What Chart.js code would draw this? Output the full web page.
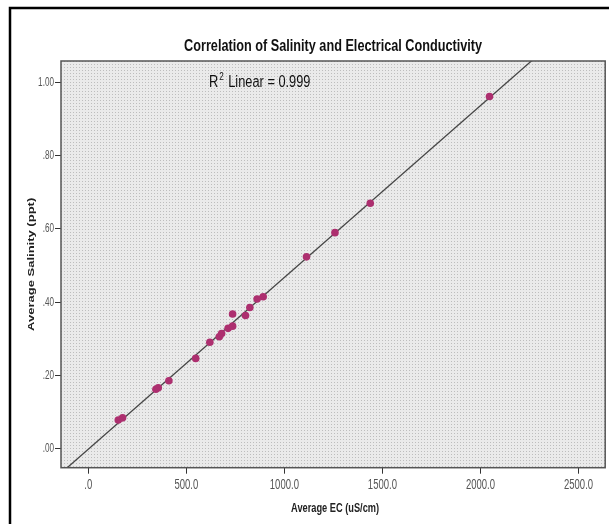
<!DOCTYPE html>
<html>
<head>
<meta charset="utf-8">
<script src="https://cdn.jsdelivr.net/npm/chart.js@4.4.1/dist/chart.umd.min.js"></script>
<style>
  html, body { margin: 0; padding: 0; background: #fff; }
  #wrap { width: 609px; height: 524px; }
</style>
</head>
<body>
<div id="wrap"><canvas id="chart" width="609" height="524"></canvas></div>
<script>
// EC (uS/cm) and salinity (ppt) for each sample
const ecValues = [153, 175, 345, 357, 411, 548, 620, 668, 680, 713, 736, 736, 802, 824, 861, 892, 1113, 1258, 1438, 2046];
const salinityValues = [0.079, 0.085, 0.163, 0.167, 0.186, 0.247, 0.291, 0.306, 0.315, 0.329, 0.335, 0.368, 0.364, 0.386, 0.409, 0.415, 0.524, 0.59, 0.67, 0.961];

const xTickValues = [0, 500, 1000, 1500, 2000, 2500];
const xTickLabels = ['.0', '500.0', '1000.0', '1500.0', '2000.0', '2500.0'];
const yTickValues = [0, 0.2, 0.4, 0.6, 0.8, 1.0];
const yTickLabels = ['.00', '.20', '.40', '.60', '.80', '1.00'];
const rSquaredText = '0.999';

const chartTitle = 'Correlation of Salinity and Electrical Conductivity';
const xTitle = 'Average EC (uS/cm)';
const yTitle = 'Average Salinity (ppt)';

const xMin = -139, xMax = 2636;
const yMin = -0.051, yMax = 1.058;

const family = "'Liberation Sans', Arial, sans-serif";
const squeeze = 0.68; // the SPSS export uses a condensed face

// least squares line through the samples
function linearFit(xs, ys) {
  const n = xs.length;
  let sx = 0, sy = 0, sxx = 0, sxy = 0;
  for (let i = 0; i < n; i++) {
    sx += xs[i]; sy += ys[i];
    sxx += xs[i] * xs[i]; sxy += xs[i] * ys[i];
  }
  const slope = (n * sxy - sx * sy) / (n * sxx - sx * sx);
  return { slope: slope, intercept: (sy - slope * sx) / n };
}
const fit = linearFit(ecValues, salinityValues);

const points = ecValues.map((x, i) => ({ x: x, y: salinityValues[i] }));
const fitLine = [xMin, xMax].map(x => ({ x: x, y: fit.intercept + fit.slope * x }));

// horizontally squeezed text; width (if given) wins over sx
function drawText(ctx, text, x, y, font, color, align, sx, width) {
  ctx.save();
  ctx.font = font;
  ctx.fillStyle = color;
  ctx.textAlign = 'left';
  ctx.textBaseline = 'middle';
  const raw = ctx.measureText(text).width;
  if (width) sx = width / raw;
  const w = raw * sx;
  const left = align === 'center' ? x - w / 2 : align === 'right' ? x - w : x;
  ctx.translate(left, y);
  ctx.scale(sx, 1);
  ctx.fillText(text, 0, 0);
  ctx.restore();
  return w;
}

// dotted fill for the plot area
function makePattern(ctx) {
  const tile = document.createElement('canvas');
  tile.width = 3; tile.height = 3;
  const t = tile.getContext('2d');
  t.fillStyle = '#eaeaea';
  t.fillRect(0, 0, 3, 3);
  t.fillStyle = '#bdbdbd';
  t.fillRect(1, 1, 1, 1);
  return ctx.createPattern(tile, 'repeat');
}

const plotDecor = {
  id: 'plotDecor',
  beforeDraw(chart) {
    const { ctx, chartArea: a } = chart;
    ctx.save();
    ctx.fillStyle = makePattern(ctx);
    ctx.fillRect(a.left, a.top, a.right - a.left, a.bottom - a.top);
    ctx.restore();
  },
  afterDraw(chart) {
    const { ctx, chartArea: a, scales } = chart;
    ctx.save();
    // plot box
    ctx.strokeStyle = '#555';
    ctx.lineWidth = 1.5;
    ctx.strokeRect(a.left, a.top, a.right - a.left, a.bottom - a.top);

    // outer frame (top and left edges)
    ctx.strokeStyle = '#000';
    ctx.lineWidth = 2.5;
    ctx.beginPath();
    ctx.moveTo(10, 524);
    ctx.lineTo(10, 8);
    ctx.lineTo(609, 8);
    ctx.stroke();
    ctx.restore();

    // tick labels
    xTickValues.forEach((v, i) => {
      drawText(ctx, xTickLabels[i], scales.x.getPixelForValue(v), 485,
        '14px ' + family, '#555', 'center', squeeze);
    });
    yTickValues.forEach((v, i) => {
      drawText(ctx, yTickLabels[i], 54, scales.y.getPixelForValue(v),
        '12px ' + family, '#555', 'right', squeeze);
    });

    // titles
    const midX = (a.left + a.right) / 2;
    drawText(ctx, chartTitle, midX, 46, 'bold 17px ' + family, '#111', 'center', 1, 298);
    drawText(ctx, xTitle, midX + 2, 508, 'bold 13px ' + family, '#222', 'center', 1, 88);

    ctx.save();
    ctx.translate(32, (a.top + a.bottom) / 2);
    ctx.rotate(-Math.PI / 2);
    ctx.scale(1, squeeze);
    ctx.font = 'bold 13px ' + family;
    ctx.fillStyle = '#222';
    ctx.textAlign = 'center';
    ctx.textBaseline = 'middle';
    ctx.fillText(yTitle, 0, 0);
    ctx.restore();

    // R squared note
    const x0 = 209, cy = 83;
    let x = x0;
    x += drawText(ctx, 'R', x, cy, '16px ' + family, '#111', 'left', 0.8);
    x += drawText(ctx, '2', x + 1, cy - 6, '10px ' + family, '#111', 'left', 0.8) + 2;
    drawText(ctx, ' Linear = ' + rSquaredText, x, cy, '16px ' + family, '#111', 'left', 0.8);
  }
};

new Chart(document.getElementById('chart'), {
  type: 'scatter',
  data: {
    datasets: [
      {
        label: 'Samples',
        data: points,
        pointRadius: 3.8,
        pointHoverRadius: 3.8,
        backgroundColor: '#ad2f6f',
        borderWidth: 0,
        order: 1
      },
      {
        label: 'Linear fit',
        type: 'line',
        data: fitLine,
        borderColor: '#454545',
        borderWidth: 1.3,
        pointRadius: 0,
        fill: false,
        order: 2
      }
    ]
  },
  options: {
    responsive: false,
    animation: false,
    devicePixelRatio: 1,
    layout: { padding: { left: 0, right: 3.3, top: 61, bottom: 0 } },
    plugins: {
      legend: { display: false },
      tooltip: { enabled: false },
      title: { display: false }
    },
    scales: {
      x: {
        type: 'linear',
        min: xMin,
        max: xMax,
        afterBuildTicks: s => { s.ticks = xTickValues.map(v => ({ value: v })); },
        afterFit: s => { s.height = 56.3; },
        ticks: { display: false },
        grid: { drawOnChartArea: false, drawTicks: true, tickLength: 6, color: '#333' },
        border: { display: false }
      },
      y: {
        type: 'linear',
        min: yMin,
        max: yMax,
        afterBuildTicks: s => { s.ticks = yTickValues.map(v => ({ value: v })); },
        afterFit: s => { s.width = 61; },
        ticks: { display: false },
        grid: { drawOnChartArea: false, drawTicks: true, tickLength: 6, color: '#333' },
        border: { display: false }
      }
    }
  },
  plugins: [plotDecor]
});
</script>
</body>
</html>
